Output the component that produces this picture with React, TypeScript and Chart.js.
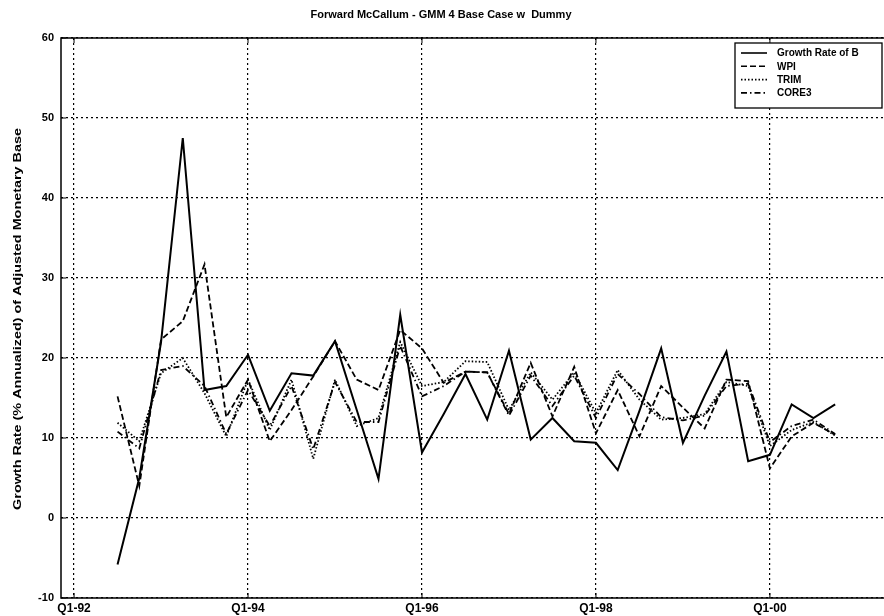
import React, { useEffect, useRef } from 'react';
import { Chart, registerables } from 'chart.js';

Chart.register(...registerables);

// ---- data ----
const quarters = [
  'Q3-92', 'Q4-92',
  'Q1-93', 'Q2-93', 'Q3-93', 'Q4-93',
  'Q1-94', 'Q2-94', 'Q3-94', 'Q4-94',
  'Q1-95', 'Q2-95', 'Q3-95', 'Q4-95',
  'Q1-96', 'Q2-96', 'Q3-96', 'Q4-96',
  'Q1-97', 'Q2-97', 'Q3-97', 'Q4-97',
  'Q1-98', 'Q2-98', 'Q3-98', 'Q4-98',
  'Q1-99', 'Q2-99', 'Q3-99', 'Q4-99',
  'Q1-00', 'Q2-00', 'Q3-00', 'Q4-00',
];

const growthRateOfB = [
  -5.8, 5.0,
  22.0, 47.5, 16.0, 16.5,
  20.4, 13.4, 18.1, 17.8,
  22.1, 13.5, 4.9, 25.4,
  8.2, 13.0, 18.0, 12.3,
  20.9, 9.8, 12.5, 9.6,
  9.4, 6.0, 13.4, 21.2,
  9.4, 15.3, 20.8, 7.1,
  7.9, 14.2, 12.5, 14.2,
];

const wpi = [
  15.2, 4.0,
  22.3, 24.6, 31.7, 12.6,
  17.3, 9.6, 13.5, 17.7,
  22.1, 17.3, 16.0, 23.5,
  21.2, 16.9, 18.3, 18.2,
  13.0, 19.4, 12.7, 18.9,
  10.6, 16.0, 10.2, 16.5,
  13.8, 11.2, 17.3, 17.1,
  6.2, 10.2, 11.9, 10.4,
];

const trim = [
  11.9, 9.6,
  18.1, 20.0, 15.6, 10.2,
  17.3, 11.0, 17.3, 7.4,
  17.3, 11.5, 12.5, 22.0,
  16.5, 17.0, 19.6, 19.5,
  13.5, 18.2, 14.8, 18.2,
  13.1, 18.5, 14.8, 12.3,
  12.5, 13.0, 17.0, 16.5,
  9.0, 11.0, 12.0, 10.3,
];

const core3 = [
  10.8, 8.7,
  18.5, 19.0, 16.5, 10.5,
  16.0, 11.5, 16.5, 8.6,
  17.0, 12.0, 12.0, 21.5,
  15.2, 16.5, 18.3, 18.2,
  12.8, 17.8, 14.0, 17.8,
  12.5, 18.0, 15.5, 12.6,
  12.2, 12.8, 16.5, 16.8,
  9.5, 11.5, 12.3, 10.5,
];

const seriesLabels = ['Growth Rate of B', 'WPI', 'TRIM', 'CORE3'];
const xTickLabels = ['Q1-92', 'Q1-94', 'Q1-96', 'Q1-98', 'Q1-00'];
const yTickValues = [-10, 0, 10, 20, 30, 40, 50, 60];

const titleText = 'Forward McCallum - GMM 4 Base Case w  Dummy';
const yTitleText = 'Growth Rate (% Annualized) of Adjusted Monetary Base';

function quarterIndex(label: string): number {
  const m = /^Q(\d)-(\d\d)$/.exec(label);
  if (!m) return 0;
  const q = Number(m[1]);
  let y = Number(m[2]);
  if (y < 50) y += 100;
  return (y - 92) * 4 + (q - 1);
}

const FONT = '"Liberation Sans", Arial, Helvetica, sans-serif';

const decorPlugin = {
  id: 'decor',
  afterDraw(chart: any) {
    const { ctx, chartArea: a } = chart;
    ctx.save();
    ctx.setLineDash([]);
    ctx.strokeStyle = '#000';
    ctx.fillStyle = '#000';

    // frame (left, bottom, top; right edge falls off the picture)
    ctx.lineWidth = 1.5;
    ctx.beginPath();
    ctx.moveTo(a.right + 2, a.top);
    ctx.lineTo(a.left, a.top);
    ctx.lineTo(a.left, a.bottom);
    ctx.lineTo(a.right + 2, a.bottom);
    ctx.stroke();

    // inward tick marks
    ctx.lineWidth = 1;
    const xs = chart.scales.x;
    const ys = chart.scales.y;
    xs.ticks.forEach((t: any) => {
      const px = xs.getPixelForValue(t.value);
      ctx.beginPath();
      ctx.moveTo(px, a.bottom); ctx.lineTo(px, a.bottom - 5);
      ctx.moveTo(px, a.top); ctx.lineTo(px, a.top + 5);
      ctx.stroke();
    });
    ys.ticks.forEach((t: any) => {
      const py = ys.getPixelForValue(t.value);
      ctx.beginPath();
      ctx.moveTo(a.left, py); ctx.lineTo(a.left + 5, py);
      ctx.stroke();
    });

    // title
    ctx.font = `bold 11px ${FONT}`;
    ctx.textAlign = 'center';
    ctx.textBaseline = 'middle';
    ctx.fillText(titleText, 441, 15);

    // y axis title (stretched along its length like the original)
    ctx.save();
    ctx.translate(18, 319);
    ctx.rotate(-Math.PI / 2);
    ctx.scale(1.25, 1);
    ctx.font = `bold 11.5px ${FONT}`;
    ctx.fillText(yTitleText, 0, 0);
    ctx.restore();

    // legend
    const bx = a.right - 148;
    const by = a.top + 5;
    const bw = 147;
    const bh = 65;
    ctx.fillStyle = '#fff';
    ctx.fillRect(bx, by, bw, bh);
    ctx.lineWidth = 1.3;
    ctx.strokeStyle = '#000';
    ctx.strokeRect(bx, by, bw, bh);
    ctx.font = `bold 10px ${FONT}`;
    ctx.textAlign = 'left';
    ctx.fillStyle = '#000';
    chart.data.datasets.forEach((ds: any, i: number) => {
      const cy = by + 10 + i * 13.3;
      ctx.save();
      ctx.lineWidth = 1.6;
      ctx.setLineDash(ds.borderDash || []);
      ctx.beginPath();
      ctx.moveTo(bx + 6, cy);
      ctx.lineTo(bx + 32, cy);
      ctx.stroke();
      ctx.restore();
      ctx.fillText(ds.label, bx + 42, cy + 0.5);
    });

    ctx.restore();
  },
};

export default function App() {
  const canvasRef = useRef<HTMLCanvasElement | null>(null);

  useEffect(() => {
    document.body.style.margin = '0';
    const canvas = canvasRef.current;
    if (!canvas) return;

    const toPoints = (vals: number[]) =>
      vals.map((v, i) => ({ x: quarterIndex(quarters[i]), y: v }));

    const styles = [
      { dash: [] as number[], width: 2 },
      { dash: [6, 3], width: 1.8 },
      { dash: [1.5, 2], width: 1.8 },
      { dash: [6, 3, 1.5, 3], width: 1.8 },
    ];
    const allSeries = [growthRateOfB, wpi, trim, core3];

    const chart = new Chart(canvas, {
      type: 'line',
      data: {
        datasets: allSeries.map((vals, i) => ({
          label: seriesLabels[i],
          data: toPoints(vals),
          borderColor: '#000',
          backgroundColor: '#000',
          borderWidth: styles[i].width,
          borderDash: styles[i].dash,
          pointRadius: 0,
          tension: 0,
          fill: false,
        })),
      },
      options: {
        animation: false,
        responsive: false,
        maintainAspectRatio: false,
        layout: { padding: { left: 0, right: 1, top: 38, bottom: 0 } },
        plugins: {
          legend: { display: false },
          title: { display: false },
          tooltip: { enabled: false },
        },
        scales: {
          x: {
            type: 'linear',
            min: -0.6,
            max: 37.2,
            afterBuildTicks: (scale: any) => {
              scale.ticks = xTickLabels.map((l) => ({ value: quarterIndex(l) }));
            },
            afterFit: (scale: any) => {
              scale.height = 18;
            },
            ticks: {
              autoSkip: false,
              maxRotation: 0,
              padding: 3,
              color: '#000',
              font: { family: FONT, size: 12, weight: 'bold' },
              callback: (value: any) => {
                const idx = xTickLabels.findIndex((l) => quarterIndex(l) === value);
                return idx >= 0 ? xTickLabels[idx] : '';
              },
            },
            grid: {
              color: '#000',
              lineWidth: 1.2,
              drawTicks: false,
            },
            border: { display: false, dash: [2, 3] },
          },
          y: {
            type: 'linear',
            min: -10,
            max: 60,
            afterBuildTicks: (scale: any) => {
              scale.ticks = yTickValues.map((v) => ({ value: v }));
            },
            afterFit: (scale: any) => {
              scale.width = 61;
            },
            ticks: {
              padding: 7,
              color: '#000',
              font: { family: FONT, size: 11, weight: 'bold' },
            },
            grid: {
              color: '#000',
              lineWidth: 1.2,
              drawTicks: false,
            },
            border: { display: false, dash: [2, 3] },
          },
        },
      },
      plugins: [decorPlugin],
    });

    return () => {
      chart.destroy();
    };
  }, []);

  return (
    <div style={{ width: 884, height: 616, position: 'relative', background: '#fff' }}>
      <canvas ref={canvasRef} width={884} height={616} style={{ display: 'block' }} />
    </div>
  );
}
